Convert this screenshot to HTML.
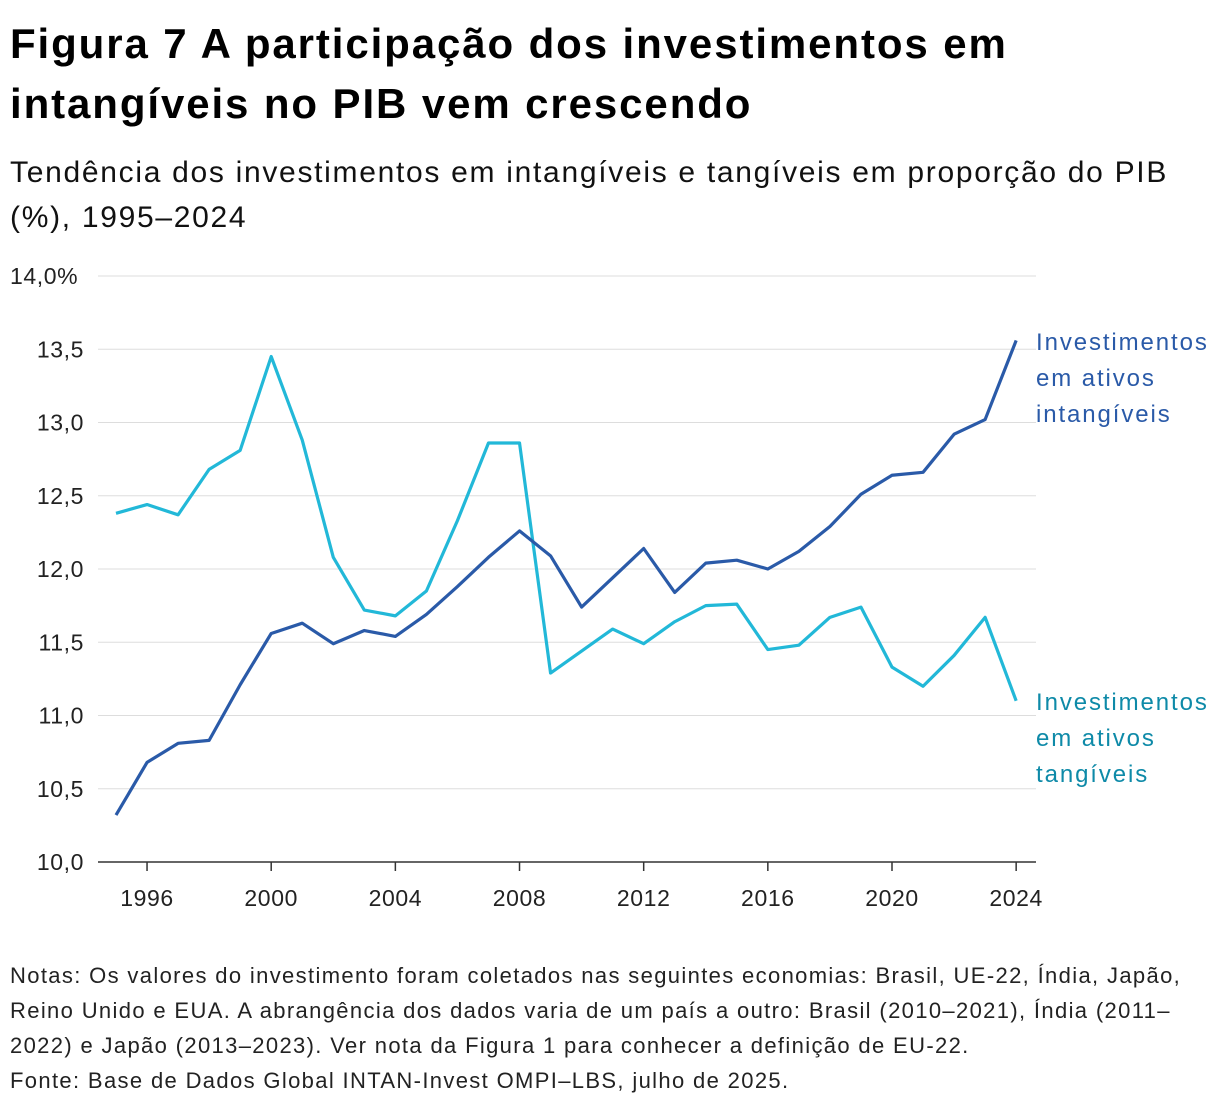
<!DOCTYPE html>
<html><head><meta charset="utf-8">
<style>
body{margin:0;background:#fff;width:1220px;height:1106px;overflow:hidden;font-family:"Liberation Sans","Noto Sans CJK JP",sans-serif;color:#000}
h1{position:absolute;left:10px;top:14px;margin:0;font-size:42px;line-height:60px;font-weight:bold;width:1210px;letter-spacing:1.9px;white-space:nowrap}
.sub{position:absolute;left:10px;top:150px;font-size:30px;line-height:45px;color:#111;letter-spacing:1.7px;white-space:nowrap}
.notes{position:absolute;left:10px;top:958px;font-size:22px;line-height:35px;color:#222;letter-spacing:1.35px;white-space:nowrap}
svg{position:absolute;left:0;top:0}
</style></head><body>
<h1>Figura 7 A participação dos investimentos em<br>intangíveis no PIB vem crescendo</h1>
<div class="sub">Tendência dos investimentos em intangíveis e tangíveis em proporção do PIB<br>(%), 1995–2024</div>
<svg id="chart" width="1220" height="1106"></svg>
<div class="notes">Notas: Os valores do investimento foram coletados nas seguintes economias: Brasil, UE-22, Índia, Japão,<br>Reino Unido e EUA. A abrangência dos dados varia de um país a outro: Brasil (2010–2021), Índia (2011–<br>2022) e Japão (2013–2023). Ver nota da Figura 1 para conhecer a definição de EU-22.<br>Fonte: Base de Dados Global INTAN-Invest OMPI–LBS, julho de 2025.</div>
<script>
const years=[1995,1996,1997,1998,1999,2000,2001,2002,2003,2004,2005,2006,2007,2008,2009,2010,2011,2012,2013,2014,2015,2016,2017,2018,2019,2020,2021,2022,2023,2024];
const intangible=[10.32,10.68,10.81,10.83,11.21,11.56,11.63,11.49,11.58,11.54,11.69,11.88,12.08,12.26,12.09,11.74,11.94,12.14,11.84,12.04,12.06,12.00,12.12,12.29,12.51,12.64,12.66,12.92,13.02,13.56];
const tangible=[12.38,12.44,12.37,12.68,12.81,13.45,12.88,12.08,11.72,11.68,11.85,12.33,12.86,12.86,11.29,11.44,11.59,11.49,11.64,11.75,11.76,11.45,11.48,11.67,11.74,11.33,11.20,11.41,11.67,11.10];
const yTicks=[10,10.5,11,11.5,12,12.5,13,13.5,14];
const yTickLabels=["10,0","10,5","11,0","11,5","12,0","12,5","13,0","13,5","14,0%"];
const xTicks=[1996,2000,2004,2008,2012,2016,2020,2024];
const NS="http://www.w3.org/2000/svg";
const svg=document.getElementById('chart');
const x=y=>116+(y-1995)*31.04;
const yS=v=>862-(v-10)*146.5;
function mk(t,a){const e=document.createElementNS(NS,t);for(const k in a)e.setAttribute(k,a[k]);svg.appendChild(e);return e;}
yTicks.forEach((v,i)=>{
 const g=mk('line',{x1:98,x2:1036,y1:yS(v),y2:yS(v),stroke:i==0?'#333':'#ddd','stroke-width':i==0?1.5:1});
 
 
 const t=mk('text',{x:84,y:yS(v)+8,'text-anchor':'end','font-size':23,fill:'#222','letter-spacing':0.6});
 t.textContent=yTickLabels[i];
 
 
 if(i==yTicks.length-1){t.setAttribute('x',10);t.setAttribute('text-anchor','start');}
});
xTicks.forEach(yr=>{
 const l=mk('line',{x1:x(yr),x2:x(yr),y1:862,y2:871,stroke:'#333','stroke-width':1.5});
 
 
 const t=mk('text',{x:x(yr),y:906,'text-anchor':'middle','font-size':23,fill:'#222','letter-spacing':0.6});
 t.textContent=yr;
 
 
});
function series(vals,color,name){
 const p=mk('polyline',{points:vals.map((v,i)=>x(years[i])+','+yS(v)).join(' '),fill:'none',stroke:color,'stroke-width':3.2,'stroke-linejoin':'round'});
 
 
}
series(tangible,'#22b8d8','tangible-line');
series(intangible,'#2a5aa8','intangible-line');
function label(lines,y0,color,name){
 const t=mk('text',{x:1036,y:y0,'font-size':24,fill:color,'letter-spacing':1.9});
 
 
 lines.forEach((s,i)=>{const ts=document.createElementNS(NS,'tspan');ts.setAttribute('x',1036);ts.setAttribute('y',y0+i*36);ts.textContent=s;t.appendChild(ts);});
}
label(['Investimentos','em ativos','intangíveis'],350,'#2a5aa8','intangible-label');
label(['Investimentos','em ativos','tangíveis'],710,'#0e8aa8','tangible-label');
</script>
</body></html>
